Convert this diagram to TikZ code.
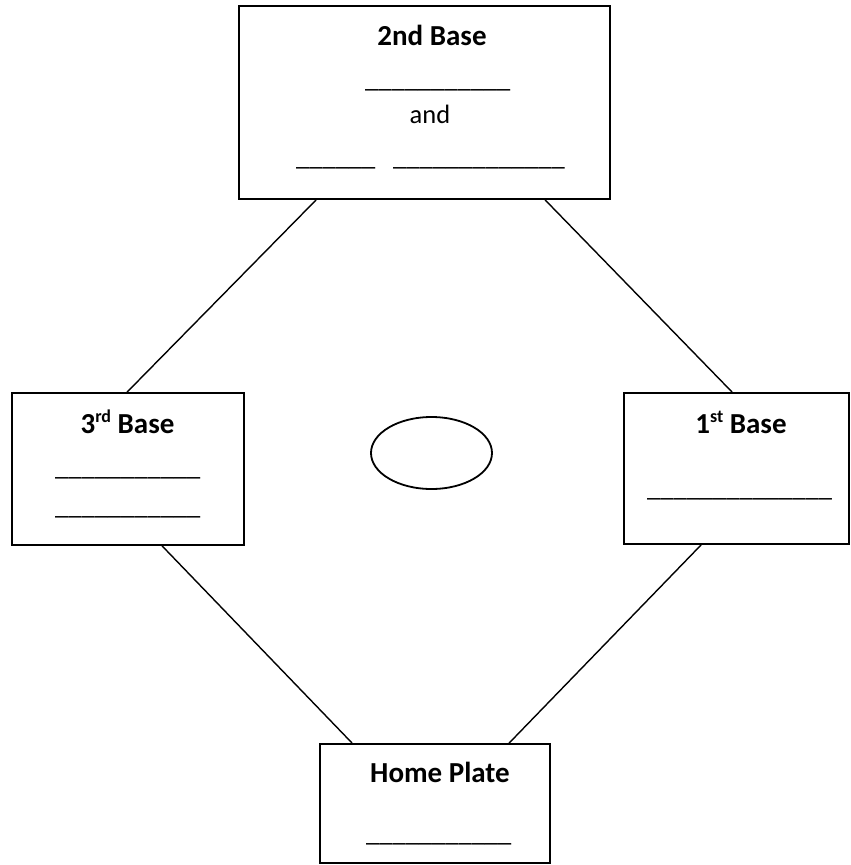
\documentclass[tikz,border=0pt]{standalone}
\usepackage{fontspec}
\setmainfont{Carlito}
\usetikzlibrary{shapes.geometric}
\newcommand{\supx}[1]{\raisebox{0.36em}{\fontsize{18bp}{20bp}\selectfont #1}}
\begin{document}
\begin{tikzpicture}[x=1bp,y=-1bp,
  box/.style={draw, line width=1.8bp, rectangle, inner sep=0pt},
  conn/.style={line width=1.4bp},
  head/.style={font=\bfseries\fontsize{29bp}{34bp}\selectfont, inner sep=0pt, anchor=base},
  txt/.style={font=\fontsize{26.5bp}{32bp}\selectfont, inner sep=0pt, anchor=base},
  blank/.style={font=\fontsize{26.5bp}{32bp}\selectfont, inner sep=0pt, anchor=base west}]
\useasboundingbox (0,0) rectangle (851,865);
% boxes
\node[box, minimum width=371bp, minimum height=193bp] (second) at (424.5,102.5) {};
\node[box, minimum width=232bp, minimum height=152bp] (third) at (128,469) {};
\node[box, minimum width=225bp, minimum height=151bp] (first) at (736.5,468.5) {};
\node[box, minimum width=230bp, minimum height=119bp] (home) at (435,803.5) {};
\node[draw, ellipse, line width=1.8bp, minimum width=121bp, minimum height=72bp, inner sep=0pt] (mound) at (431.5,453) {};
% connectors
\draw[conn] ([xshift=78bp]second.south west) -- ([xshift=116bp]third.north west);
\draw[conn] ([xshift=307bp]second.south west) -- ([xshift=109bp]first.north west);
\draw[conn] ([xshift=151bp]third.south west) -- ([xshift=33bp]home.north west);
\draw[conn] ([xshift=78bp]first.south west) -- ([xshift=190bp]home.north west);
% texts: 2nd base
\node[head] (t2) at (432,45) {2nd Base};
\node[blank] (t2a) at (365,87) {\_\_\_\_\_\_\_\_\_\_\_};
\node[txt] (t2b) at (430,123) {and};
\node[blank] (t2c) at (296,165) {\_\_\_\_\_\_};
\node[blank] (t2d) at (393,165) {\_\_\_\_\_\_\_\_\_\_\_\_\_};
% 3rd base
\node[head] (t3) at (127.5,433) {3\supx{rd} Base};
\node[blank] (t3a) at (55,475) {\_\_\_\_\_\_\_\_\_\_\_};
\node[blank] (t3b) at (55,514) {\_\_\_\_\_\_\_\_\_\_\_};
% 1st base
\node[head] (t1) at (741,433) {1\supx{st} Base};
\node[blank] (t1a) at (647,496) {\_\_\_\_\_\_\_\_\_\_\_\_\_\_};
% home plate
\node[head] (th) at (440,782) {Home Plate};
\node[blank] (tha) at (366,841) {\_\_\_\_\_\_\_\_\_\_\_};
\end{tikzpicture}
\end{document}
